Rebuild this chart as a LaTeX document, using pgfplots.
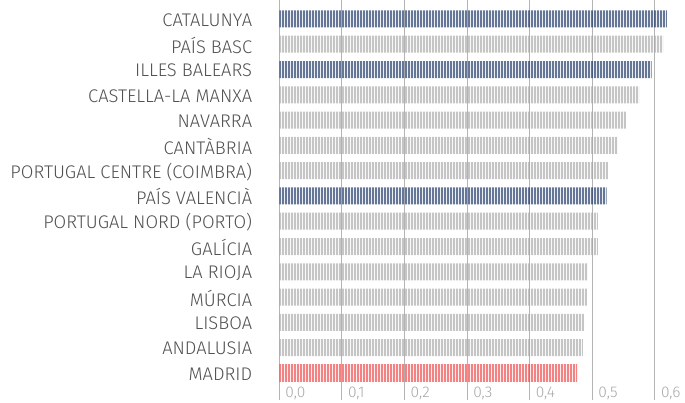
\documentclass[border=0pt]{standalone}
\usepackage{pgfplots}
\pgfplotsset{compat=1.18}
\usetikzlibrary{patterns.meta}
\usepackage{fontspec}
\setmainfont{Fira Sans}[UprightFont=* Light]
\definecolor{cblue}{HTML}{122C5E}
\definecolor{cgrey}{HTML}{A6A6A6}
\definecolor{cred}{HTML}{EC4040}
\definecolor{labc}{HTML}{505050}
\definecolor{tickc}{HTML}{A8A8A8}
\definecolor{gridc}{HTML}{B4B4B4}
\tikzdeclarepattern{
  name=vstripes,
  type=uncolored,
  bounding box={(0pt,0pt) and (3.45pt,1pt)},
  tile size={(3.45pt,1pt)},
  code={\fill (0pt,0pt) rectangle (2.6pt,1pt);}
}
\begin{document}
\begin{tikzpicture}
\begin{axis}[
  scale only axis, width=388.1pt, height=400pt,
  xmin=0, xmax=0.62, ymin=-1.07, ymax=14.75,
  axis line style={draw=none},
  xtick={0,0.1,0.2,0.3,0.4,0.5,0.6},
  ytick={0,...,14},
  yticklabels={MADRID,ANDALUSIA,LISBOA,MÚRCIA,LA RIOJA,GALÍCIA,PORTUGAL NORD (PORTO),PAÍS VALENCIÀ,PORTUGAL CENTRE (COIMBRA),CANTÀBRIA,NAVARRA,CASTELLA-LA MANXA,ILLES BALEARS,PAÍS BASC,CATALUNYA},
  major tick length=0pt,
  xmajorgrids, grid style={gridc, line width=1pt},
  xticklabel={\pgfmathprintnumber[fixed,fixed zerofill,precision=1,use comma,assume math mode=true]{\tick}},
  xticklabel style={anchor=base west, inner sep=0pt, xshift=6pt, yshift=2.5pt, text=tickc, font=\fontsize{15.5}{18}\selectfont},
  yticklabel style={anchor=east, inner sep=0pt, xshift=-27pt, yshift=-1pt, text=labc, font=\fontsize{18.3}{21}\selectfont},
  xbar, bar width=0.672,
]
\coordinate (o) at (rel axis cs:0,0);
\addplot[draw=none, pattern={vstripes}, pattern color=cgrey, bar shift=0pt] coordinates {
 (0.613,13) (0.575,11) (0.554,10) (0.541,9) (0.525,8) (0.509,6) (0.509,5) (0.493,4) (0.4915,3) (0.487,2) (0.485,1)};
\addplot[draw=none, pattern={vstripes}, pattern color=cblue, bar shift=0pt] coordinates {
 (0.619,14) (0.595,12) (0.523,7)};
\addplot[draw=none, pattern={vstripes}, pattern color=cred, bar shift=0pt] coordinates {
 (0.4756,0)};
\end{axis}
\pgfresetboundingbox
\path[use as bounding box] (o) ++(-279.3pt,-2pt) rectangle ++(685pt,402pt);
\end{tikzpicture}
\end{document}
